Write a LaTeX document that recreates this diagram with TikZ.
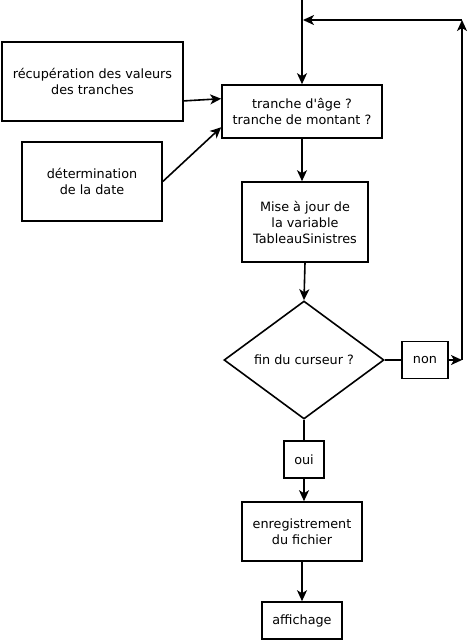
\documentclass[tikz,border=0pt]{standalone}
\usepackage{fontspec}
\setmainfont{DejaVu Sans}
\usetikzlibrary{shapes.geometric,arrows.meta}

\begin{document}
\begin{tikzpicture}[x=1pt,y=-1pt,
  boite/.style={draw, line width=1.6pt, align=center, inner sep=0pt, font=\fontsize{12.8}{16}\selectfont},
  fleche/.style={-{Stealth[length=11pt,width=10pt,inset=3pt]}, line width=1.6pt},
  trait/.style={line width=1.6pt}]
  \useasboundingbox (0,0) rectangle (470,641);
  % les boites
  \node[boite, minimum width=181pt, minimum height=79pt] (recup) at (92.5,81.5) {récupération des valeurs\\des tranches};
  \node[boite, minimum width=140pt, minimum height=79pt] (date) at (92,181.5) {détermination\\de la date};
  \node[boite, minimum width=160pt, minimum height=53pt] (tranche) at (302,111.5) {tranche d\textquotesingle âge ?\\tranche de montant ?};
  \node[boite, minimum width=126pt, minimum height=80pt] (maj) at (305,222) {Mise à jour de\\la variable\\TableauSinistres};
  \node[boite, diamond, aspect=1.36, minimum width=160pt, minimum height=118pt] (fin) at (304,360) {fin du curseur ?};
  \node[boite, minimum width=46pt, minimum height=37pt] (non) at (425,360) {non};
  \node[boite, minimum width=40pt, minimum height=37pt] (oui) at (304,459.5) {oui};
  \node[boite, minimum width=120pt, minimum height=59pt] (enreg) at (302,531.5) {enregistrement\\du fichier};
  \node[boite, minimum width=80pt, minimum height=37pt] (affich) at (302,620.5) {affichage};
  % points libres
  \coordinate (entree) at (302,0);
  \coordinate (coin1) at (462,360);
  \coordinate (coin2) at (462,20);
  \coordinate (retour) at (303,20);
  % les fleches
  \draw[fleche] (entree) -- (entree |- tranche.north);
  \draw[fleche] (recup.-12) -- (tranche.171);
  \draw[fleche] (date.east) -- (tranche.191);
  \draw[fleche] (tranche.south) -- (tranche.south |- maj.north);
  \draw[fleche] (maj.south) -- (fin.north);
  \draw[trait] (fin.east) -- (non.west);
  \draw[fleche] (non.east) -- (coin1);
  \draw[fleche] (coin1) -- (coin2);
  \draw[fleche] (coin2) -- (retour);
  \draw[trait] (fin.south) -- (oui.north);
  \draw[fleche] (oui.south) -- (oui.south |- enreg.north);
  \draw[fleche] (enreg.south) -- (enreg.south |- affich.north);
\end{tikzpicture}
\end{document}
